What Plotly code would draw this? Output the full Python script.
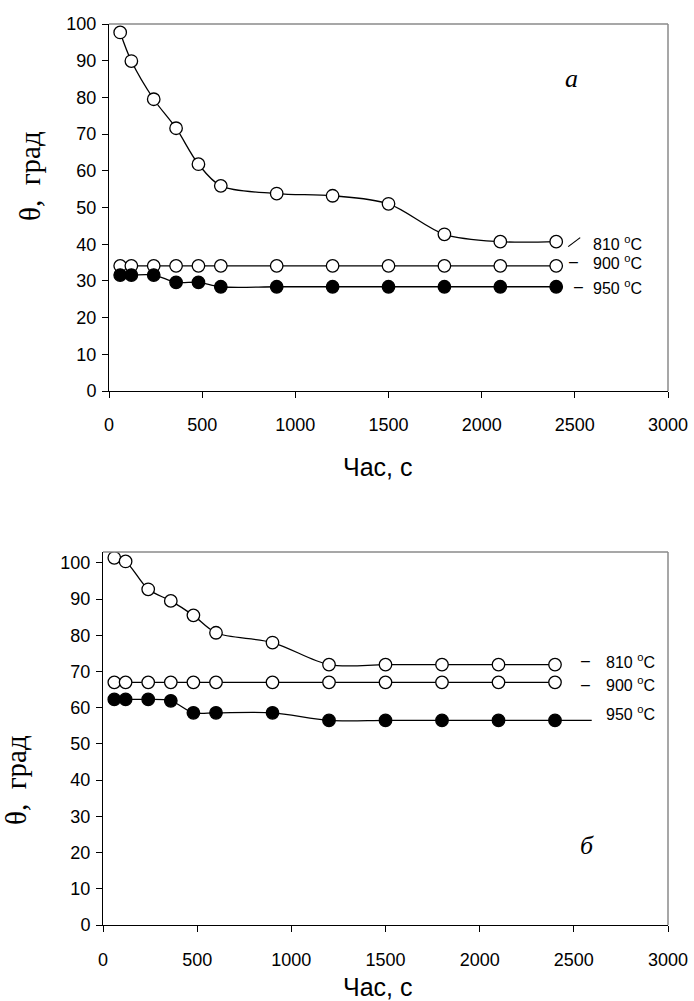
import plotly.graph_objects as go

# ---- data ----
time_s = [60, 120, 240, 360, 480, 600, 900, 1200, 1500, 1800, 2100, 2400]

a_810 = [97.7, 89.9, 79.5, 71.6, 61.8, 55.9, 53.8, 53.2, 51.0, 42.7, 40.7, 40.7]
a_900 = [34.1, 34.1, 34.1, 34.1, 34.1, 34.1, 34.1, 34.1, 34.1, 34.1, 34.1, 34.1]
a_950 = [31.6, 31.6, 31.6, 29.6, 29.6, 28.4, 28.4, 28.4, 28.4, 28.4, 28.4, 28.4]

b_810 = [101.4, 100.4, 92.7, 89.5, 85.5, 80.7, 78.0, 71.9, 71.9, 71.9, 71.9, 71.9]
b_900 = [67.0, 67.0, 67.0, 67.0, 67.0, 67.0, 67.0, 67.0, 67.0, 67.0, 67.0, 67.0]
b_950 = [62.3, 62.3, 62.3, 61.9, 58.6, 58.6, 58.6, 56.5, 56.5, 56.5, 56.5, 56.5]

x_ticks = [0, 500, 1000, 1500, 2000, 2500, 3000]
y_ticks = [0, 10, 20, 30, 40, 50, 60, 70, 80, 90, 100]
series_labels = ["810 <sup>o</sup>C", "900 <sup>o</sup>C", "950 <sup>o</sup>C"]

W, H = 694, 1001
SANS = "Liberation Sans, Arial, sans-serif"
SERIF = "Liberation Serif, Times New Roman, serif"

fig = go.Figure()


def add_series(y, filled, xa, ya):
    fig.add_trace(go.Scatter(
        x=time_s, y=y, mode="lines+markers",
        line=dict(color="black", width=1.3, shape="spline", smoothing=0.9),
        marker=dict(size=12.5, symbol="circle",
                    color="black" if filled else "white",
                    line=dict(color="black", width=1.3)),
        xaxis=xa, yaxis=ya, showlegend=False, hoverinfo="x+y"))


add_series(a_810, False, "x", "y")
add_series(a_900, False, "x", "y")
add_series(a_950, True, "x", "y")
add_series(b_810, False, "x2", "y2")
add_series(b_900, False, "x2", "y2")
add_series(b_950, True, "x2", "y2")

axis_common = dict(
    showgrid=False, zeroline=False, showline=True, linecolor="black", linewidth=1,
    ticks="outside", ticklen=6, tickwidth=1, tickcolor="black", automargin=False,
    tickfont=dict(family=SANS, size=18, color="black"),
)

fig.update_layout(
    width=W, height=H,
    margin=dict(l=0, r=0, t=0, b=0, pad=0, autoexpand=False),
    paper_bgcolor="white", plot_bgcolor="white",
    xaxis=dict(axis_common, domain=[109 / W, 668 / W], range=[0, 3000],
               tickvals=x_ticks, anchor="y", ticklabelstandoff=11),
    yaxis=dict(axis_common, domain=[1 - 391 / H, 1 - 24 / H], range=[0, 100],
               tickvals=y_ticks, anchor="x", ticklabelstandoff=2),
    xaxis2=dict(axis_common, domain=[103 / W, 668 / W], range=[0, 3000],
                tickvals=x_ticks, anchor="y2", ticklabelstandoff=12),
    yaxis2=dict(axis_common, domain=[1 - 925 / H, 1 - 552 / H], range=[0, 103],
                tickvals=y_ticks, anchor="x2", ticklabelstandoff=2),
)

# gray plot-area border (top and right)
for xa, ya in (("x", "y"), ("x2", "y2")):
    fig.add_shape(type="line", xref=f"{xa} domain", yref=f"{ya} domain",
                  x0=0, x1=1, y0=1, y1=1, line=dict(color="#8a8a8a", width=1.5))
    fig.add_shape(type="line", xref=f"{xa} domain", yref=f"{ya} domain",
                  x0=1, x1=1, y0=0, y1=1, line=dict(color="#8a8a8a", width=1.5))

# axis titles
for yp in (467, 987):
    fig.add_annotation(text="Час, с", xref="paper", yref="paper",
                       x=377 / W, y=1 - yp / H, showarrow=False,
                       font=dict(family=SANS, size=25, color="black"),
                       xanchor="center", yanchor="middle")
fig.add_annotation(text="θ,  град", xref="paper", yref="paper",
                   x=30 / W, y=1 - 176 / H, textangle=-90, showarrow=False,
                   font=dict(family=SERIF, size=29, color="black"),
                   xanchor="center", yanchor="middle")
fig.add_annotation(text="θ,  град", xref="paper", yref="paper",
                   x=16 / W, y=1 - 780 / H, textangle=-90, showarrow=False,
                   font=dict(family=SERIF, size=29, color="black"),
                   xanchor="center", yanchor="middle")

# panel letters
fig.add_annotation(text="<i>a</i>", xref="paper", yref="paper",
                   x=571 / W, y=1 - 78 / H, showarrow=False,
                   xanchor="center", yanchor="middle",
                   font=dict(family=SERIF, size=26, color="black"))
fig.add_annotation(text="<i>б</i>", xref="paper", yref="paper",
                   x=587 / W, y=1 - 845 / H, showarrow=False,
                   xanchor="center", yanchor="middle",
                   font=dict(family=SERIF, size=26, color="black"))

lab_font = dict(family=SANS, size=16, color="black")

# top panel series labels
last = time_s[-1]
fig.add_shape(type="line", xref="x", yref="y", xsizemode="pixel", ysizemode="pixel",
              xanchor=last, yanchor=a_810[-1], x0=12, x1=24, y0=-5, y1=4,
              line=dict(color="black", width=1.2))
for yv, lab, ys, dash in ((a_810[-1], series_labels[0], -1, None),
                          (a_900[-1], series_labels[1], 4, 17),
                          (a_950[-1], series_labels[2], 0, 22)):
    fig.add_annotation(text=lab, xref="x", yref="y", x=last, y=yv, xanchor="left",
                       yanchor="middle", xshift=35, yshift=ys, showarrow=False, font=lab_font)
    if dash is not None:
        fig.add_annotation(text="–", xref="x", yref="y", x=last, y=yv, xanchor="center",
                           yanchor="middle", xshift=dash, yshift=ys, showarrow=False, font=lab_font)

# bottom panel series labels
fig.add_shape(type="line", xref="x2", yref="y2",
              x0=last, x1=2595, y0=b_950[-1], y1=b_950[-1],
              line=dict(color="black", width=1.3))
for yv, lab, ys, dash in ((b_810[-1], series_labels[0], 4, 30),
                          (b_900[-1], series_labels[1], -2, 30),
                          (b_950[-1], series_labels[2], 7, None)):
    fig.add_annotation(text=lab, xref="x2", yref="y2", x=last, y=yv, xanchor="left",
                       yanchor="middle", xshift=49, yshift=ys, showarrow=False, font=lab_font)
    if dash is not None:
        fig.add_annotation(text="–", xref="x2", yref="y2", x=last, y=yv, xanchor="center",
                           yanchor="middle", xshift=dash, yshift=ys, showarrow=False, font=lab_font)

fig.write_html(
    "out.html",
    config={"displayModeBar": False},
    post_script="document.body.style.margin='0';document.body.style.overflow='hidden';",
)
